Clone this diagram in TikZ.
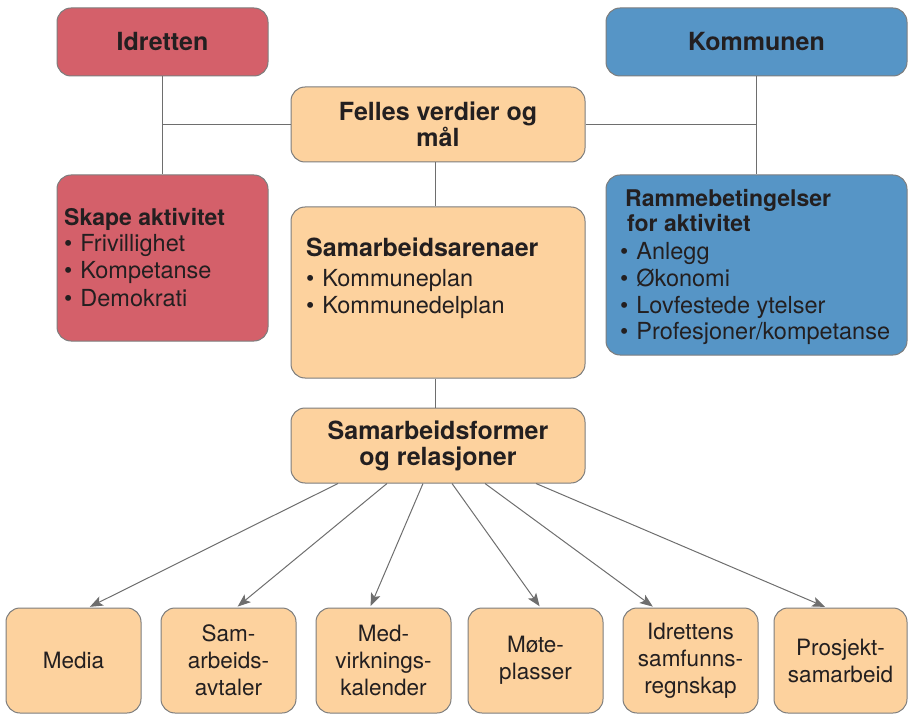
\documentclass[tikz,border=0pt]{standalone}
\usepackage{fontspec}
\setmainfont{TeX Gyre Heros}
\usetikzlibrary{arrows.meta,calc}
\definecolor{redc}{RGB}{212,96,106}
\definecolor{bluec}{RGB}{86,149,198}
\definecolor{orc}{RGB}{253,210,158}
\definecolor{edgec}{RGB}{125,125,125}
\definecolor{linec}{RGB}{110,110,110}
\definecolor{txt}{RGB}{35,31,32}
\newcommand{\bul}{\textbullet\hspace{8pt}}
\begin{document}
\begin{tikzpicture}[x=1pt,y=-1pt,
 box/.style={draw=edgec,line width=1pt,rounded corners=14pt,inner sep=0pt,text=txt,align=center},
 bigt/.style={font=\fontsize{25}{26}\selectfont\bfseries},
 subt/.style={font=\fontsize{23}{26}\selectfont\bfseries,text=txt,inner sep=0pt,anchor=base west},
 itm/.style={font=\fontsize{23.5}{27}\selectfont,text=txt,inner sep=0pt,anchor=base west},
 small/.style={font=\fontsize{22.5}{27}\selectfont},
 conn/.style={draw=linec,line width=1pt},
 arr/.style={conn,-{Stealth[length=13pt,width=10pt,inset=3pt]},shorten >=1.5pt}]
\useasboundingbox (0,0) rectangle (908,714);
% top boxes
\node[box,bigt,fill=redc,minimum width=211pt,minimum height=68pt] (idr) at (162.5,42) {Idretten};
\node[box,bigt,fill=bluec,minimum width=301pt,minimum height=68pt] (kom) at (756.5,42) {Kommunen};
\node[box,bigt,fill=orc,minimum width=294pt,minimum height=75pt] (fel) at (438,124.5) {Felles verdier og\\mål};
% middle boxes
\node[box,fill=redc,minimum width=211pt,minimum height=166pt] (skape) at (162.5,258) {};
\node[box,fill=orc,minimum width=294pt,minimum height=171pt] (sa) at (438,292.5) {};
\node[box,fill=bluec,minimum width=301pt,minimum height=180pt] (ramme) at (756.5,265) {};
\node[box,bigt,fill=orc,minimum width=294pt,minimum height=75pt] (sf) at (438,445.5) {Samarbeidsformer\\og relasjoner};
% texts in middle boxes
\node[subt] (sk0) at (64,226) {Skape aktivitet};
\node[itm] (sk1) at (64,252) {\bul Frivillighet};
\node[itm] (sk2) at (64,279) {\bul Kompetanse};
\node[itm] (sk3) at (64,306) {\bul Demokrati};
\node[itm,font=\fontsize{25}{26}\selectfont\bfseries] (sa0) at (306,257) {Samarbeidsarenaer};
\node[itm] (sa1) at (306,287) {\bul Kommuneplan};
\node[itm] (sa2) at (306,313) {\bul Kommunedelplan};
\node[subt] (ra0) at (625,207) {Rammebetingelser};
\node[subt] (ra1) at (627,232) {for aktivitet};
\node[itm] (ra2) at (620,260) {\bul Anlegg};
\node[itm] (ra3) at (620,287) {\bul Økonomi};
\node[itm] (ra4) at (620,313) {\bul Lovfestede ytelser};
\node[itm] (ra5) at (620,339) {\bul Profesjoner/kompetanse};
% bottom boxes
\node[box,small,fill=orc,minimum width=135pt,minimum height=105pt] (b1) at (73.5,660.5) {Media};
\node[box,small,fill=orc,minimum width=135pt,minimum height=105pt] (b2) at (228.5,660.5) {Sam-\\arbeids-\\avtaler};
\node[box,small,fill=orc,minimum width=135pt,minimum height=105pt] (b3) at (383.5,660.5) {Med-\\virknings-\\kalender};
\node[box,small,fill=orc,minimum width=135pt,minimum height=105pt] (b4) at (535.5,660.5) {Møte-\\plasser};
\node[box,small,fill=orc,minimum width=135pt,minimum height=105pt] (b5) at (690.5,660.5) {Idrettens\\samfunns-\\regnskap};
\node[box,small,fill=orc,minimum width=133pt,minimum height=105pt] (b6) at (840.5,660.5) {Prosjekt-\\samarbeid};
% connectors
\draw[conn] (idr.south) -- (skape.north);
\draw[conn] (kom.south) -- (ramme.north);
\draw[conn] (fel.west) -- (fel.west -| idr.south);
\draw[conn] (fel.east) -- (fel.east -| kom.south);
\draw[conn] ([xshift=-3pt]fel.south) -- ([xshift=-3pt]sa.north);
\draw[conn] ([xshift=-3pt]sa.south) -- ([xshift=-3pt]sf.north);
% arrows
\draw[arr] ([xshift=-100pt]sf.south) -- ([xshift=15pt]b1.north);
\draw[arr] ([xshift=-51pt]sf.south) -- ([xshift=8pt]b2.north);
\draw[arr] ([xshift=-15pt]sf.south) -- ([xshift=-13.5pt]b3.north);
\draw[arr] ([xshift=14pt]sf.south) -- ([xshift=5pt]b4.north);
\draw[arr] ([xshift=47pt]sf.south) -- ([xshift=-36.5pt]b5.north);
\draw[arr] ([xshift=98pt]sf.south) -- ([xshift=-14pt]b6.north);
\end{tikzpicture}
\end{document}
